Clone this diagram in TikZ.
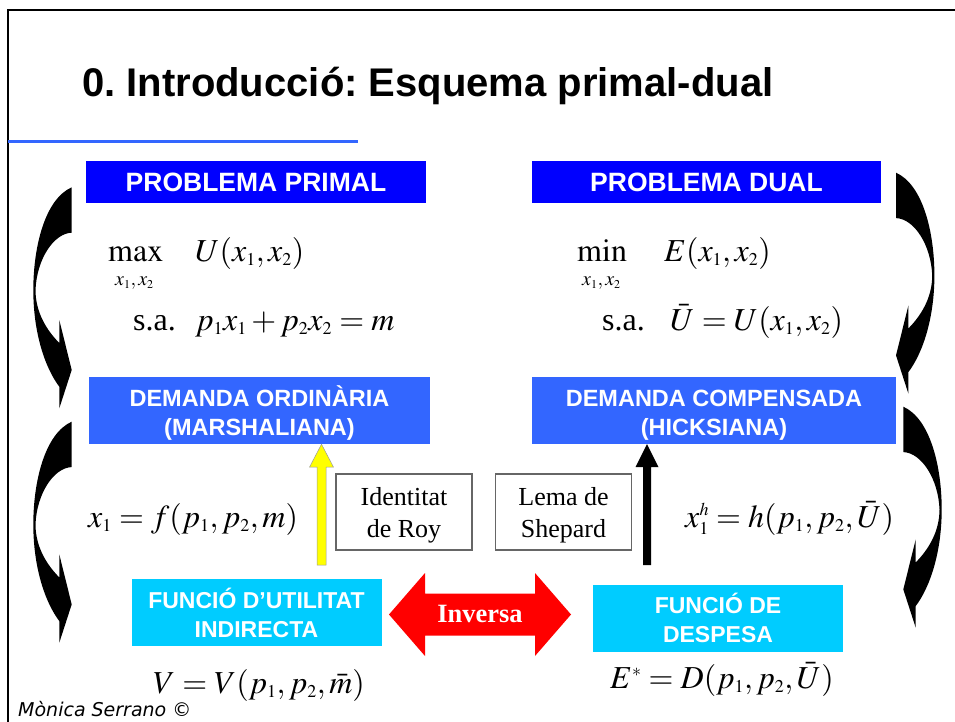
\documentclass[tikz,border=0pt]{standalone}
\usepackage{mathptmx}
\usepackage{fontspec}
\setmainfont{Liberation Serif}
\setsansfont{Liberation Sans}
\newfontfamily\djv{DejaVu Sans}
\usetikzlibrary{calc}
\DeclareMathSizes{32}{32}{18}{14}
\DeclareMathSizes{20}{20}{12}{9}
\frenchspacing
\definecolor{bpure}{HTML}{0000FF}
\definecolor{bmid}{HTML}{3366FF}
\definecolor{bcyan}{HTML}{00CCFF}
\definecolor{rinv}{HTML}{FF0000}
\definecolor{yarr}{HTML}{FFFF00}
\newcommand\mycurvedarrow{%
  \fill (0,0) .. controls (-27,12) and (-38.4,60) .. (-38.4,102.7)
     .. controls (-38.4,145) and (-27,180) .. (-12.4,199.4)
     -- (-12.4,221) -- (0,182.7) -- (-12.4,132.7) -- (-12.4,155.7)
     .. controls (-25,143) and (-36.2,125) .. (-36.2,102.7)
     .. controls (-35,72) and (-18,46) .. (0,45.4) -- cycle;}
\newcommand\twoline[3]{\raisebox{-#3}[0pt][0pt]{\def\arraystretch{1}\begin{tabular}[b]{@{}c@{}}#1\\#2\end{tabular}}}
\begin{document}
\begin{tikzpicture}[x=1pt,y=-1pt,
  hdr/.style={fill=bpure,text=white,inner sep=0pt,minimum height=42pt,
    font=\fontsize{26.5}{30}\selectfont\sffamily\bfseries},
  dbox/.style={fill=bmid,text=white,inner sep=0pt,minimum height=67pt,
    font=\fontsize{23.5}{29}\selectfont\sffamily\bfseries},
  fbox/.style={fill=bcyan,text=white,inner sep=0pt,minimum height=67pt,minimum width=250pt,
    font=\fontsize{23}{29}\selectfont\sffamily\bfseries},
  mth/.style={anchor=base west,inner sep=0pt,font=\fontsize{32}{38}\selectfont},
  msub/.style={anchor=base west,inner sep=0pt,font=\fontsize{20}{24}\selectfont},
  lem/.style={draw=black!60,line width=1.2pt,inner sep=0pt,minimum width=136pt,minimum height=76pt,
    font=\fontsize{26}{32}\selectfont},
  ]
\useasboundingbox (0,0) rectangle (955,722);
% frame
\draw[line width=2pt] (8,722) -- (8,10) -- (955,10);
\draw[bmid,line width=3pt] (8,142) -- (358,142);
% title
\node[anchor=base west,inner sep=0pt,font=\fontsize{40}{48}\selectfont\sffamily\bfseries] (title) at (82,97) {0. Introducció: Esquema primal-dual};
% header boxes
\node[hdr,minimum width=340pt] (primal) at (256,182) {PROBLEMA PRIMAL};
\node[hdr,minimum width=349pt] (dual) at (706.5,182) {PROBLEMA DUAL};
\node[dbox,minimum width=341pt] (marsh) at (259.5,410.5) {\twoline{DEMANDA ORDINÀRIA}{(MARSHALIANA)}{24.5pt}};
\node[dbox,minimum width=364pt] (hicks) at (714,410.5) {\twoline{DEMANDA COMPENSADA}{(HICKSIANA)}{24.5pt}};
\node[fbox] (indir) at (256.5,612.5) {\twoline{FUNCIÓ D’UTILITAT}{INDIRECTA}{24.5pt}};
\node[fbox] (desp) at (718,618.5) {\twoline{FUNCIÓ DE}{DESPESA}{23.5pt}};
% math
\node[mth] (maxop) at (108,261) {$\max$};
\node[msub] (maxsub) at (115,285) {$x_1,x_2$};
\node[mth] (ufun) at (195,261) {$U(x_1,x_2)$};
\node[mth] (sa1) at (133,330) {s.a.};
\node[mth] (con1) at (195,330) {$p_1x_1+p_2x_2=m$};
\node[mth] (minop) at (577,261) {$\min$};
\node[msub] (minsub) at (582,285) {$x_1,x_2$};
\node[mth] (efun) at (664,261) {$E(x_1,x_2)$};
\node[mth] (sa2) at (602,330) {s.a.};
\node[mth] (con2) at (670,330) {$\bar U=U(x_1,x_2)$};
\node[mth] (marf) at (88,527) {$x_1=f(p_1,p_2,m)$};
\node[mth] (hicf) at (685,527) {$x_1^h=h(p_1,p_2,\bar U)$};
\node[mth] (vfun) at (153,693) {$V=V(p_1,p_2,\bar m)$};
\node[mth] (dfun) at (610,688) {$E^*=D(p_1,p_2,\bar U)$};
% lemma boxes
\node[lem] (roy) at (404,512) {\twoline{Identitat}{de Roy}{25pt}};
\node[lem] (shep) at (563.5,512) {\twoline{Lema de}{Shepard}{25pt}};
% yellow arrow
\coordinate (ybot) at (321.5,565);
\coordinate (ytop) at (marsh.south -| ybot);
\draw[fill=yarr,draw=black!40,line width=0.5pt] ($(ybot)+(-4.5,0)$) -- ($(ytop)+(-4.5,23)$) -- ($(ytop)+(-12,23)$) -- (ytop)
  -- ($(ytop)+(12,23)$) -- ($(ytop)+(4.5,23)$) -- ($(ybot)+(4.5,0)$) -- cycle;
% black arrow
\coordinate (kbot) at (647,565);
\coordinate (ktop) at (hicks.south -| kbot);
\fill ($(kbot)+(-4,0)$) -- ($(ktop)+(-4,23)$) -- ($(ktop)+(-11.5,23)$) -- (ktop)
  -- ($(ktop)+(11.5,23)$) -- ($(ktop)+(4,23)$) -- ($(kbot)+(4,0)$) -- cycle;
% inversa
\coordinate (inv) at (480,614.5);
\fill[rinv] ($(inv)+(-91,0)$) -- ($(inv)+(-55,-41.5)$) -- ($(inv)+(-55,-21)$) -- ($(inv)+(55,-21)$)
  -- ($(inv)+(55,-41.5)$) -- ($(inv)+(91,0)$) -- ($(inv)+(55,41.5)$) -- ($(inv)+(55,21)$)
  -- ($(inv)+(-55,21)$) -- ($(inv)+(-55,41.5)$) -- cycle;
\node[anchor=base,inner sep=0pt,text=white,font=\fontsize{26.4}{30}\selectfont\bfseries] (invtxt) at ($(inv)+(0,7.5)$) {Inversa};
% curved arrows
\begin{scope}[shift={(71.7,187.3)}]\mycurvedarrow\end{scope}
\begin{scope}[shift={(71.7,421.7)}]\mycurvedarrow\end{scope}
\begin{scope}[shift={(896,172.7)},xscale=-1]\mycurvedarrow\end{scope}
\begin{scope}[shift={(903.3,406.7)},xscale=-1]\mycurvedarrow\end{scope}
% author
\node[anchor=base west,inner sep=0pt,font=\djv\itshape\fontsize{19}{22}\selectfont] (author) at (18,716) {Mònica Serrano ©};
\end{tikzpicture}
\end{document}
